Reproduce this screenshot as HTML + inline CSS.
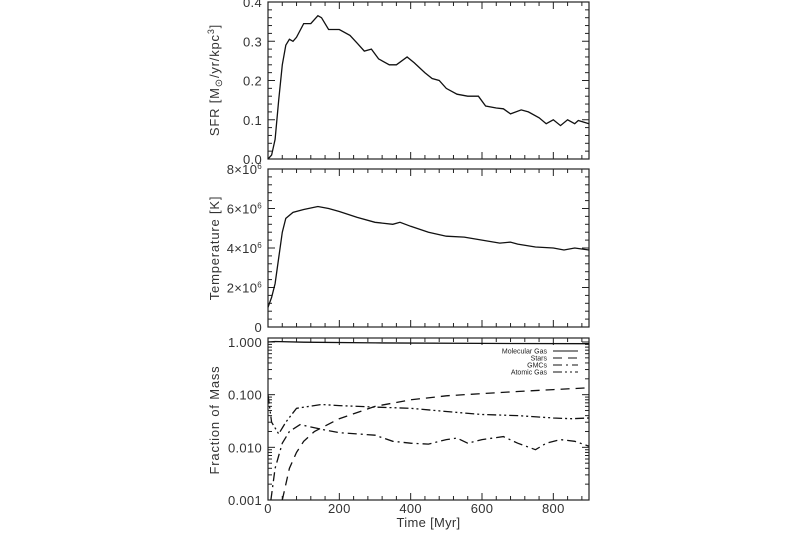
<!DOCTYPE html>
<html><head><meta charset="utf-8"><style>
html,body{margin:0;padding:0;background:#fff;}
svg{display:block;font-family:"Liberation Sans",sans-serif;}
</style></head><body>
<svg id="c" width="800" height="533" viewBox="0 0 800 533"></svg>
<script>
const sfrT=[0,10,20,30,40,50,60,70,80,100,120,140,150,170,200,230,250,270,290,310,340,360,390,410,440,460,480,500,530,560,590,610,640,660,680,710,730,760,780,800,820,840,860,870,900];
const sfrV=[0,0.01,0.05,0.15,0.24,0.29,0.305,0.30,0.31,0.345,0.345,0.365,0.36,0.33,0.33,0.315,0.295,0.275,0.28,0.255,0.24,0.24,0.26,0.245,0.22,0.205,0.2,0.18,0.165,0.16,0.16,0.135,0.13,0.128,0.115,0.125,0.12,0.105,0.09,0.1,0.085,0.1,0.09,0.098,0.09];
const tempT=[0,10,20,30,40,50,70,100,140,170,200,250,300,350,370,400,450,500,550,600,650,680,700,750,800,830,860,900];
const tempV=[1.0,1.5,2.2,3.5,4.8,5.5,5.8,5.95,6.1,6.0,5.85,5.55,5.3,5.2,5.3,5.1,4.8,4.6,4.55,4.4,4.25,4.3,4.2,4.05,4.0,3.9,4.0,3.9];
const molT=[0,20,100,300,600,900];
const molV=[1.0,1.02,0.99,0.96,0.94,0.93];
const starT=[40,60,80,100,130,200,300,400,500,600,700,800,900];
const starV=[0.001,0.004,0.008,0.013,0.02,0.035,0.06,0.08,0.095,0.105,0.115,0.125,0.135];
const gmcT=[8,20,40,60,90,150,200,250,300,350,400,450,500,530,560,600,660,700,750,780,820,860,900];
const gmcV=[0.001,0.004,0.012,0.02,0.027,0.022,0.019,0.018,0.017,0.013,0.012,0.0115,0.014,0.015,0.012,0.014,0.016,0.012,0.009,0.012,0.014,0.013,0.0105];
const atomT=[0,10,30,50,80,150,200,300,400,500,600,700,800,850,900];
const atomV=[0.1,0.03,0.018,0.03,0.055,0.065,0.062,0.058,0.055,0.048,0.042,0.04,0.036,0.035,0.036];
const xTicks=[0,200,400,600,800];
const sfrTicks=[0,0.1,0.2,0.3,0.4];
const tempTicks=[0,2,4,6,8];
const fracTicks=[0.001,0.01,0.1,1];
const fracLabels=["0.001","0.010","0.100","1.000"];

const NS="http://www.w3.org/2000/svg";
const svg=document.getElementById('c');
const X0=268,X1=589;
const xs=t=>X0+(X1-X0)*t/900;
function el(tag,a,parent){const e=document.createElementNS(NS,tag);for(const k in a)e.setAttribute(k,a[k]);(parent||svg).appendChild(e);return e;}
const P1={top:2,bot:159,y:v=>159-157*v/0.4};
const P2={top:169,bot:327,y:v=>327-158*v/8};
const P3={top:338,bot:500,y:v=>500-(Math.log10(v)+3)*(158/3)};
function frame(P,name){
  const r=el('rect',{x:X0,y:P.top,width:X1-X0,height:P.bot-P.top,fill:'none',stroke:'#222','stroke-width':1.2});
  
  
  for(let t=0;t<=900;t+=40){
    const L=(t%200===0)?7:4;
    el('line',{x1:xs(t),x2:xs(t),y1:P.bot,y2:P.bot-L,stroke:'#222'});
    el('line',{x1:xs(t),x2:xs(t),y1:P.top,y2:P.top+L,stroke:'#222'});
  }
}
function ytick(P,y,L){el('line',{x1:X0,x2:X0+L,y1:y,y2:y,stroke:'#222'});el('line',{x1:X1,x2:X1-L,y1:y,y2:y,stroke:'#222'});}
function label(x,y,s,name,anchor){const t=el('text',{x:x,y:y,'font-size':13,fill:'#333','text-anchor':anchor||'end','letter-spacing':0.3});t.textContent=s;return t;}
function line(T,V,P,name,dash){
  const d=T.map((t,i)=>(i?'L':'M')+xs(t).toFixed(1)+','+P.y(V[i]).toFixed(1)).join('');
  const p=el('path',{d:d,fill:'none',stroke:'#111','stroke-width':1.3,'stroke-dasharray':dash||'none'});
  
  
}
const clip=el('clipPath',{id:'cp3'});el('rect',{x:X0,y:P3.top,width:X1-X0,height:P3.bot-P3.top},clip);

frame(P1,'sfr-panel');frame(P2,'temperature-panel');frame(P3,'fraction-panel');
for(let v=0;v<=0.4001;v+=0.02){ytick(P1,P1.y(v),Math.abs(v*10-Math.round(v*10))<1e-6?7:4);}
sfrTicks.forEach(v=>label(262,P1.y(v)+5,v.toFixed(1),'sfr-tick-label'));
for(let v=0;v<=8.001;v+=0.4){ytick(P2,P2.y(v),Math.abs(v/2-Math.round(v/2))<1e-6?7:4);}
tempTicks.forEach(v=>{
  if(v===0){label(262,P2.y(0)+5,'0','temp-tick-label');return;}
  const t=label(262,P2.y(v)+5,v+'×10','temp-tick-label');
  const s=el('tspan',{dy:-5,'font-size':8},t);s.textContent='6';
});
for(let d=-3;d<0;d++){for(let m=1;m<10;m++){ytick(P3,P3.y(m*Math.pow(10,d)),m===1?7:4);}}
ytick(P3,P3.y(1),7);
fracTicks.forEach((v,i)=>label(262,P3.y(v)+5,fracLabels[i],'fraction-tick-label'));
xTicks.forEach(v=>label(xs(v),513,String(v),'x-tick-label','middle'));
label(xs(450),527,'Time [Myr]','x-axis-title','middle');

function ytitle(y,html,name){const t=el('text',{x:0,y:0,'font-size':13,fill:'#333','text-anchor':'middle','letter-spacing':0.8,transform:'translate(219,'+y+') rotate(-90)'});t.innerHTML=html;}
ytitle(80,'SFR [M<tspan font-size="10" dy="3">⊙</tspan><tspan dy="-3">/yr/kpc</tspan><tspan font-size="9" dy="-5">3</tspan><tspan dy="5">]</tspan>','sfr-axis-title');
ytitle(248,'Temperature [K]','temperature-axis-title');
ytitle(420,'Fraction of Mass','fraction-axis-title');

line(sfrT,sfrV,P1,'sfr-line');
line(tempT,tempV,P2,'temperature-line');
const g=el('g',{'clip-path':'url(#cp3)'});
function line3(T,V,name,dash){const d=T.map((t,i)=>(i?'L':'M')+xs(t).toFixed(1)+','+P3.y(V[i]).toFixed(1)).join('');const p=el('path',{d:d,fill:'none',stroke:'#111','stroke-width':1.3,'stroke-dasharray':dash||'none'},g);}
line3(molT,molV,'molecular-gas-line');
line3(starT,starV,'stars-line','9,6');
line3(gmcT,gmcV,'gmcs-line','9,4,2,4');
line3(atomT,atomV,'atomic-gas-line','9,3,2,3,2,3');
const leg=[['Molecular Gas','none'],['Stars','9,6'],['GMCs','9,4,2,4'],['Atomic Gas','9,3,2,3,2,3']];
leg.forEach((l,i)=>{
  const y=351+i*7;
  const t=el('text',{x:547,y:y+2.5,'font-size':7,fill:'#222','text-anchor':'end'});t.textContent=l[0];
  
  el('line',{x1:553,x2:578,y1:y,y2:y,stroke:'#111','stroke-width':1,'stroke-dasharray':l[1]});
});
</script>
</body></html>
